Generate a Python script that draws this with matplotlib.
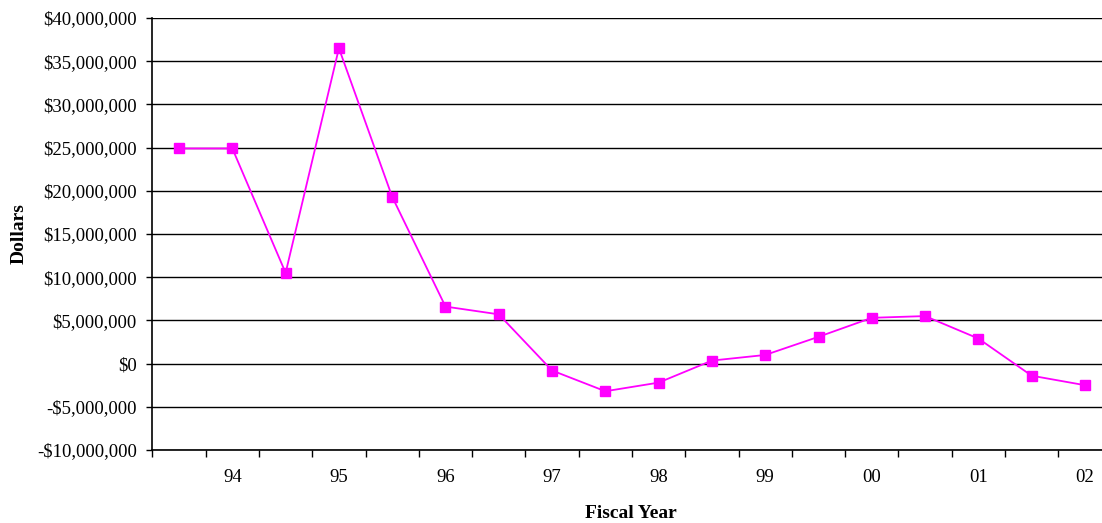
import matplotlib.pyplot as plt
from matplotlib.ticker import FuncFormatter

# fiscal year data (half-year points)
year_labels = ["94", "95", "96", "97", "98", "99", "00", "01", "02"]
values = [24.9, 24.9, 10.5, 36.5, 19.3, 6.6, 5.7, -0.8, -3.2,
          -2.2, 0.35, 1.0, 3.1, 5.3, 5.5, 2.9, -1.4, -2.5]
values = [v * 1e6 for v in values]

plt.rcParams['font.family'] = ['Liberation Serif', 'DejaVu Serif']

fig = plt.figure(figsize=(11.02, 5.23), dpi=100)
ax = fig.add_axes([152.4 / 1102, 73 / 523, 959.2 / 1102, 432 / 523])

x = list(range(len(values)))
ax.plot(x, values, color='#FF00FF', linewidth=1.3, marker='s', markersize=7.5,
        markeredgecolor='#FF00FF', zorder=3)

ax.set_xlim(-0.5, len(values) - 0.5)
ax.set_ylim(-10e6, 40e6)
ax.set_yticks([i * 5e6 for i in range(-2, 9)])

def dollars(v, pos):
    s = "${:,.0f}".format(abs(v))
    return "-" + s if v < 0 else s

ax.yaxis.set_major_formatter(FuncFormatter(dollars))
ax.grid(axis='y', color='black', linewidth=1.0)
ax.set_axisbelow(True)

ax.set_xticks(list(range(1, len(values), 2)))
ax.set_xticklabels(year_labels)
ax.set_xticks([i - 0.5 for i in range(len(values) + 1)], minor=True)
ax.tick_params(axis='x', which='major', length=0, pad=14, labelsize=13.5)
ax.tick_params(axis='x', which='minor', length=5, width=1, direction='out')
ax.tick_params(axis='y', length=4.3, width=1, direction='out', labelsize=13.5, pad=7)

ax.spines['top'].set_visible(False)
ax.spines['right'].set_visible(False)
ax.spines['left'].set_linewidth(1.2)
ax.spines['bottom'].set_linewidth(1.2)

ax.set_xlabel("Fiscal Year", fontsize=14, fontweight='bold')
ax.set_ylabel("Dollars", fontsize=14, fontweight='bold')
ax.xaxis.set_label_coords((631 - 152.4) / 959.2, (450 - 505) / 432)
ax.yaxis.set_label_coords((28 - 152.4) / 959.2, 0.5)

fig.savefig("out.png", dpi=100)
